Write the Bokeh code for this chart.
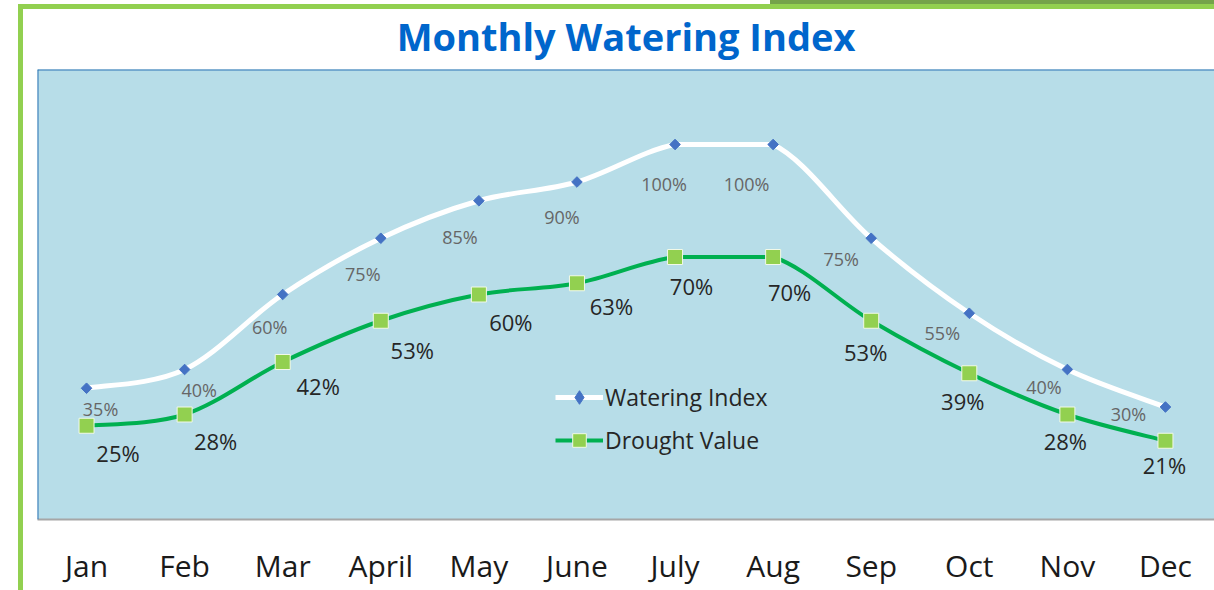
from bokeh.plotting import figure
from bokeh.models import (ColumnDataSource, FactorRange, Range1d, LabelSet, Legend,
                          LegendItem, Span)
from bokeh.core.properties import value
from bokeh.embed import file_html
from bokeh.resources import INLINE

# ---- data ----
months = ["Jan", "Feb", "Mar", "April", "May", "June", "July", "Aug", "Sep", "Oct", "Nov", "Dec"]
watering_index = [35, 40, 60, 75, 85, 90, 100, 100, 75, 55, 40, 30]
drought_value = [25, 28, 42, 53, 60, 63, 70, 70, 53, 39, 28, 21]

# ---- label placement (pixels: right / down from the point) ----
w_dx = [14, 14.5, -13, -18, -19, -15, -11, -26.5, -30, -27, -23.5, -37]
w_dy = [21, 20, 32, 36, 36.5, 34.5, 39.5, 39.5, 20.5, 19.5, 17, 6.5]
d_dx = [31.5, 31, 35.5, 31.5, 32, 34.5, 16.5, 16.5, -5.5, -6.5, -2, -1]
d_dy = [27.5, 26.5, 24, 29.5, 27, 23, 28.5, 35, 31, 28, 26.5, 24.5]

W, H = 1214, 590
FONT = "Open Sans"
FRAME_GREEN = "#92d050"

p = figure(width=W, height=H,
           x_range=FactorRange(factors=months, range_padding=0),
           y_range=Range1d(0, 120),
           output_backend="svg", toolbar_location=None,
           min_border_left=37, min_border_right=0,
           min_border_top=67, min_border_bottom=71)

# chart-object frame (green border) painted behind a transparent border fill
g = f"linear-gradient({FRAME_GREEN}, {FRAME_GREEN})"
p.styles = {
    "background-color": "white",
    "background-image": f"{g}, {g}, linear-gradient(#74a34a, #74a34a)",
    "background-size": "5px 100%, 100% 5px, 444px 4px",
    "background-position": "18px 4px, 18px 4px, 770px 0px",
    "background-repeat": "no-repeat",
}
p.border_fill_color = None
p.background_fill_color = "#b7dde8"
p.outline_line_color = None
p.grid.visible = False
p.yaxis.visible = False

p.title.text = "Monthly Watering Index"
p.title.align = "center"
p.title.text_font = FONT
p.title.text_font_size = "38px"
p.title.text_font_style = "bold"
p.title.text_color = "#0066cc"
p.title.standoff = 15

xa = p.xaxis[0]
xa.axis_line_color = "#a6a6a6"
xa.axis_line_width = 2
xa.major_tick_line_color = None
xa.minor_tick_line_color = None
xa.major_label_text_font = FONT
xa.major_label_text_font_size = "30px"
xa.major_label_text_color = "#1a1a1a"
xa.major_label_standoff = 19

# plot area borders (top / left)
p.add_layout(Span(location=120, dimension="width", line_color="#2e75b6", line_width=2))
p.add_layout(Span(location=0, dimension="height", line_color="#2e75b6", line_width=2))


def smooth_segments(vals):
    """Cubic Bezier segments through the data points (Excel-like smoothing)."""
    n = len(vals)
    xs = [i + 0.5 for i in range(n)]
    seg = dict(x0=[], y0=[], x1=[], y1=[], cx0=[], cy0=[], cx1=[], cy1=[])
    for i in range(n - 1):
        a = max(i - 1, 0)
        b = min(i + 2, n - 1)
        lo, hi = min(vals[i], vals[i + 1]), max(vals[i], vals[i + 1])
        c0x = xs[i] + (xs[i + 1] - xs[a]) / 6
        c0y = min(max(vals[i] + (vals[i + 1] - vals[a]) / 6, lo), hi)
        c1x = xs[i + 1] - (xs[b] - xs[i]) / 6
        c1y = min(max(vals[i + 1] - (vals[b] - vals[i]) / 6, lo), hi)
        seg["x0"].append(xs[i]); seg["y0"].append(vals[i])
        seg["x1"].append(xs[i + 1]); seg["y1"].append(vals[i + 1])
        seg["cx0"].append(c0x); seg["cy0"].append(c0y)
        seg["cx1"].append(c1x); seg["cy1"].append(c1y)
    return ColumnDataSource(seg)


WHITE, GREEN = "#ffffff", "#00b050"
BLUE_MARK, GREEN_MARK = "#4472c4", "#92d050"

p.bezier(x0="x0", y0="y0", x1="x1", y1="y1", cx0="cx0", cy0="cy0", cx1="cx1", cy1="cy1",
         source=smooth_segments(watering_index), line_color=WHITE, line_width=5, line_cap="round")
p.bezier(x0="x0", y0="y0", x1="x1", y1="y1", cx0="cx0", cy0="cy0", cx1="cx1", cy1="cy1",
         source=smooth_segments(drought_value), line_color=GREEN, line_width=4, line_cap="round")

wsrc = ColumnDataSource(dict(month=months, v=watering_index,
                             lab=[f"{v}%" for v in watering_index],
                             dx=w_dx, dy=[-d for d in w_dy]))
dsrc = ColumnDataSource(dict(month=months, v=drought_value,
                             lab=[f"{v}%" for v in drought_value],
                             dx=d_dx, dy=[-d for d in d_dy]))

ws = p.scatter(x="month", y="v", source=wsrc, marker="square", angle=0.785398, size=7.5,
               fill_color=BLUE_MARK, line_color=BLUE_MARK, line_width=1)
ds = p.scatter(x="month", y="v", source=dsrc, marker="square", size=15,
               fill_color=GREEN_MARK, line_color="#f2f9e8", line_width=1)

p.add_layout(LabelSet(x="month", y="v", text="lab", source=wsrc, x_offset="dx", y_offset="dy",
                      text_align="center", text_baseline="middle",
                      text_font=value(FONT), text_font_size="18px", text_color="#666666"))
p.add_layout(LabelSet(x="month", y="v", text="lab", source=dsrc, x_offset="dx", y_offset="dy",
                      text_align="center", text_baseline="middle",
                      text_font=value(FONT), text_font_size="22px", text_color="#262626"))

# legend swatches (one point each, kept below the visible range)
wl = p.line(x=["Jan"], y=[-50], line_color=WHITE, line_width=5)
wm = p.scatter(x=["Jan"], y=[-50], marker="diamond", fill_color=BLUE_MARK, line_color=BLUE_MARK)
dl = p.line(x=["Jan"], y=[-50], line_color=GREEN, line_width=4)
dm = p.scatter(x=["Jan"], y=[-50], marker="square", fill_color=GREEN_MARK, line_color="#f2f9e8")
legend = Legend(items=[LegendItem(label="Watering Index", renderers=[wl, wm]),
                       LegendItem(label="Drought Value", renderers=[dl, dm])],
                location=(518, 62), orientation="vertical", padding=0, margin=0,
                spacing=9, glyph_width=48, glyph_height=34, label_height=34,
                label_standoff=2, label_text_font=FONT, label_text_font_size="23px",
                label_text_color="#262626", background_fill_alpha=0, border_line_alpha=0)
p.add_layout(legend)

open("out.html", "w").write(file_html(p, INLINE))
